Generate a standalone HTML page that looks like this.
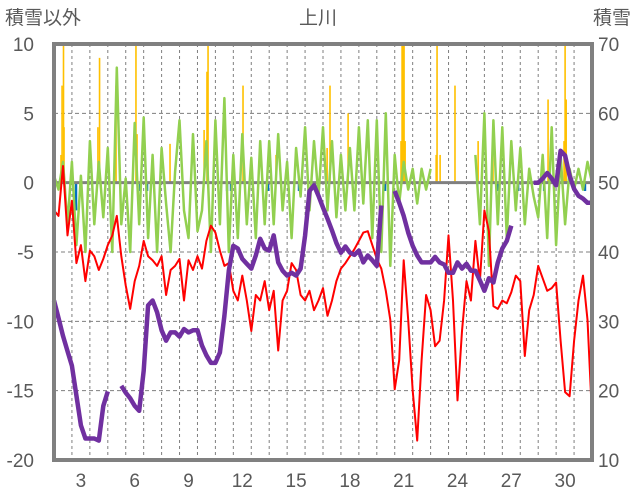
<!DOCTYPE html>
<html><head><meta charset="utf-8">
<style>
html,body{margin:0;padding:0;background:#fff;}
svg{display:block;font-family:"Liberation Sans","Noto Sans CJK JP",sans-serif;}
</style></head>
<body>
<svg id="chart" width="636" height="501" viewBox="0 0 636 501" xmlns="http://www.w3.org/2000/svg">
<rect x="0" y="0" width="636" height="501" fill="#fff"/>
<text x="5" y="24" font-size="19" fill="#595959">積雪以外</text>
<text x="318" y="24" font-size="19" fill="#595959" text-anchor="middle">上川</text>
<text x="631" y="24" font-size="19" fill="#595959" text-anchor="end">積雪</text>
<g id="grid"></g>
<g id="bars"></g>
<g id="lines"></g>
<g id="axes"></g>
</svg>
<script>
const dayTicks=[3,6,9,12,15,18,21,24,27,30];
const leftTicks=[10,5,0,-5,-10,-15,-20];
const rightTicks=[70,60,50,40,30,20,10];
const startDay=2, stepDay=0.25;
const redTemp=[-2.0,-2.4,1.2,-3.8,-1.3,-5.8,-4.5,-7.1,-4.9,-5.3,-6.3,-5.5,-4.5,-3.8,-2.4,-5.3,-7.4,-9.1,-7.1,-6.0,-4.2,-5.3,-5.6,-6.0,-5.3,-8.1,-6.3,-6.0,-5.5,-8.5,-5.6,-6.3,-5.3,-6.2,-4.2,-3.1,-3.6,-4.9,-6.0,-5.8,-7.8,-8.5,-6.7,-8.5,-10.7,-8.1,-8.5,-7.1,-9.2,-7.8,-12.1,-8.5,-7.8,-5.8,-6.3,-8.1,-8.5,-7.8,-9.2,-8.5,-7.6,-9.6,-8.5,-7.1,-6.2,-5.8,-5.3,-4.8,-4.2,-3.6,-3.5,-4.5,-5.5,-6.2,-7.8,-9.9,-14.9,-12.8,-5.6,-9.9,-15.0,-18.6,-12.8,-8.1,-9.2,-11.8,-11.4,-8.5,-3.8,-8.5,-15.7,-10.7,-7.1,-8.5,-4.2,-7.1,-2.0,-3.5,-8.9,-9.1,-8.5,-8.7,-7.9,-6.7,-7.1,-12.5,-9.2,-8.1,-6.0,-6.9,-7.8,-7.6,-7.2,-11.4,-15.1,-15.4,-11.4,-8.5,-6.7,-9.9,-16.8];
const greenChange=[0.5,-0.5,1.5,-3,1.5,-4.5,0.5,-5,3,-3,1.5,-2.5,2.5,-5,8.3,-3,0.3,-5,4.3,-3,4.7,-4,2,-5,2.5,-1.5,-5,0.8,4.5,-2,-4,3.5,-3.5,-2,3,-5,4.5,-3,6.1,-5,2,-4,3.5,-3,1.8,-4,3,-3,3,-3,3.5,-2,1.5,-4,2.5,-1,4,-2,3,-1,4,-2,3,-2.5,2,-2,2.5,-2,4,-1.5,4.5,-4,4.5,-5,5,-6,2,-1.5,1.5,-0.5,1,-1.5,1,-0.5,1,null,null,null,null,null,null,null,null,null,2,-3,5,-6,4.5,-3,4,-4,3,-2,2.5,-3,1,-1,-2.5,2,-4,4,-4.5,2,-3,1,-0.5,1,-0.5,1.5,0];
const snowDepth=[33.0,30.5,27.9,25.7,23.6,19.3,15.0,13.1,13.1,13.1,12.8,17.8,19.9,null,null,20.7,19.7,18.9,17.8,17.1,22.9,32.3,33.0,31.3,28.7,27.2,28.4,28.4,27.8,28.9,28.4,28.7,28.7,26.5,25.1,24.0,24.0,25.5,30.8,37.3,40.9,40.5,39.0,38.3,37.6,39.5,41.9,40.5,40.2,42.4,38.5,37.3,36.6,37.0,36.6,37.6,42.4,48.8,49.6,48.1,46.4,44.8,43.1,41.3,39.9,40.8,39.9,39.6,40.2,38.5,39.5,38.8,38.0,46.7,null,null,48.8,47.1,45.2,42.8,40.9,39.5,38.5,38.5,38.5,39.3,38.5,38.2,37.0,37.0,38.5,37.6,38.3,37.3,37.3,35.9,34.4,36.2,35.6,38.5,40.5,41.6,43.8,null,null,null,null,50.0,50.0,50.6,51.4,50.6,49.6,54.6,53.9,51.0,49.1,48.1,47.7,47.1,47.1];
const precipDays=[2.39,2.45,2.53,2.56,4.45,4.54,5.46,6.57,6.63,8.47,10.37,10.53,10.59,12.54,14.38,17.23,17.39,18.40,21.35,21.41,21.46,21.52,21.58,23.31,23.36,23.53,24.36,25.65,26.48,29.55,30.44,30.50,30.56];
const precipVals=[2,7,10,4,4,9,7,10,3.5,2.8,3.8,8,10,7,2,2.5,7,5,3,10,10,10,3,2,10,2,7,3,3,6,3,10,6];
const blueDays=[3.23,6.80,7.19,11.65,11.87,13.94,15.66,20.46,26.76,27.88,29.33,31.61];
const blueVals=[-2,-0.6,-0.6,-0.6,-0.6,-0.6,-0.6,-0.6,-0.6,-0.6,-0.6,-0.6];

const X0=54,X1=592,Y0=44,Y1=460;
const xs=d=>X0+(d-startDay)/30*(X1-X0);
const yl=v=>Y0+(10-v)/30*(Y1-Y0);
const yr=s=>Y0+(70-s)/60*(Y1-Y0);
const NS='http://www.w3.org/2000/svg';
function mk(tag,attrs,parent){const e=document.createElementNS(NS,tag);for(const k in attrs)e.setAttribute(k,attrs[k]);parent.appendChild(e);return e;}
const grid=document.getElementById('grid'),bars=document.getElementById('bars'),lines=document.getElementById('lines'),axes=document.getElementById('axes');

for(let d=3;d<32;d++){const x=xs(d);
 const l=mk('line',{x1:x,y1:Y0,x2:x,y2:Y1,stroke:'#7f7f7f','stroke-width':1,'stroke-dasharray':'3,3'},grid);
 
 }
leftTicks.forEach(v=>{const y=yl(v);
 if(v!==10&&v!==-20&&v!==0){const l=mk('line',{x1:X0,y1:y,x2:X1,y2:y,stroke:'#7f7f7f','stroke-width':1,'stroke-dasharray':'4,3'},grid);
 
 }
 const t=mk('text',{x:34,y:y+7,'font-size':19,fill:'#595959','text-anchor':'end'},axes);t.textContent=v;
 
 });
rightTicks.forEach(s=>{const t=mk('text',{x:598,y:yr(s)+7,'font-size':19,fill:'#595959'},axes);t.textContent=s;
 
 });
dayTicks.forEach(d=>{const t=mk('text',{x:xs(d+0.5),y:487,'font-size':19,fill:'#595959','text-anchor':'middle'},axes);t.textContent=d;
 
 });

precipDays.forEach((d,i)=>{const y=yl(precipVals[i]);
 const r=mk('rect',{x:xs(d)-0.8,y:y,width:1.6,height:yl(0)-y,fill:'#FFC000'},bars);
 
 });
blueDays.forEach((d,i)=>{const y=yl(blueVals[i]);
 const r=mk('rect',{x:xs(d)-1.2,y:yl(0),width:2.4,height:y-yl(0),fill:'#0070C0'},bars);
 
 });

function pathOf(arr,yf){let d='',pen=false;arr.forEach((v,i)=>{if(v===null){pen=false;return;}const x=xs(startDay+i*stepDay),y=yf(v);d+=(pen?'L':'M')+x.toFixed(1)+' '+y.toFixed(1)+' ';pen=true;});return d;}
const z=mk('line',{x1:X0,y1:yl(0),x2:X1,y2:yl(0),stroke:'#808080','stroke-width':3},lines);


const g=mk('path',{d:pathOf(greenChange,yl),fill:'none',stroke:'#92D050','stroke-width':2.5,'stroke-linejoin':'round'},lines);


const r=mk('path',{d:pathOf(redTemp,yl),fill:'none',stroke:'#FF0000','stroke-width':2,'stroke-linejoin':'round'},lines);


const p=mk('path',{d:pathOf(snowDepth,yr),fill:'none',stroke:'#7030A0','stroke-width':4.5,'stroke-linejoin':'round'},lines);


const f=mk('rect',{x:X0,y:Y0,width:X1-X0,height:Y1-Y0,fill:'none',stroke:'#808080','stroke-width':4},axes);


</script>
</body></html>
